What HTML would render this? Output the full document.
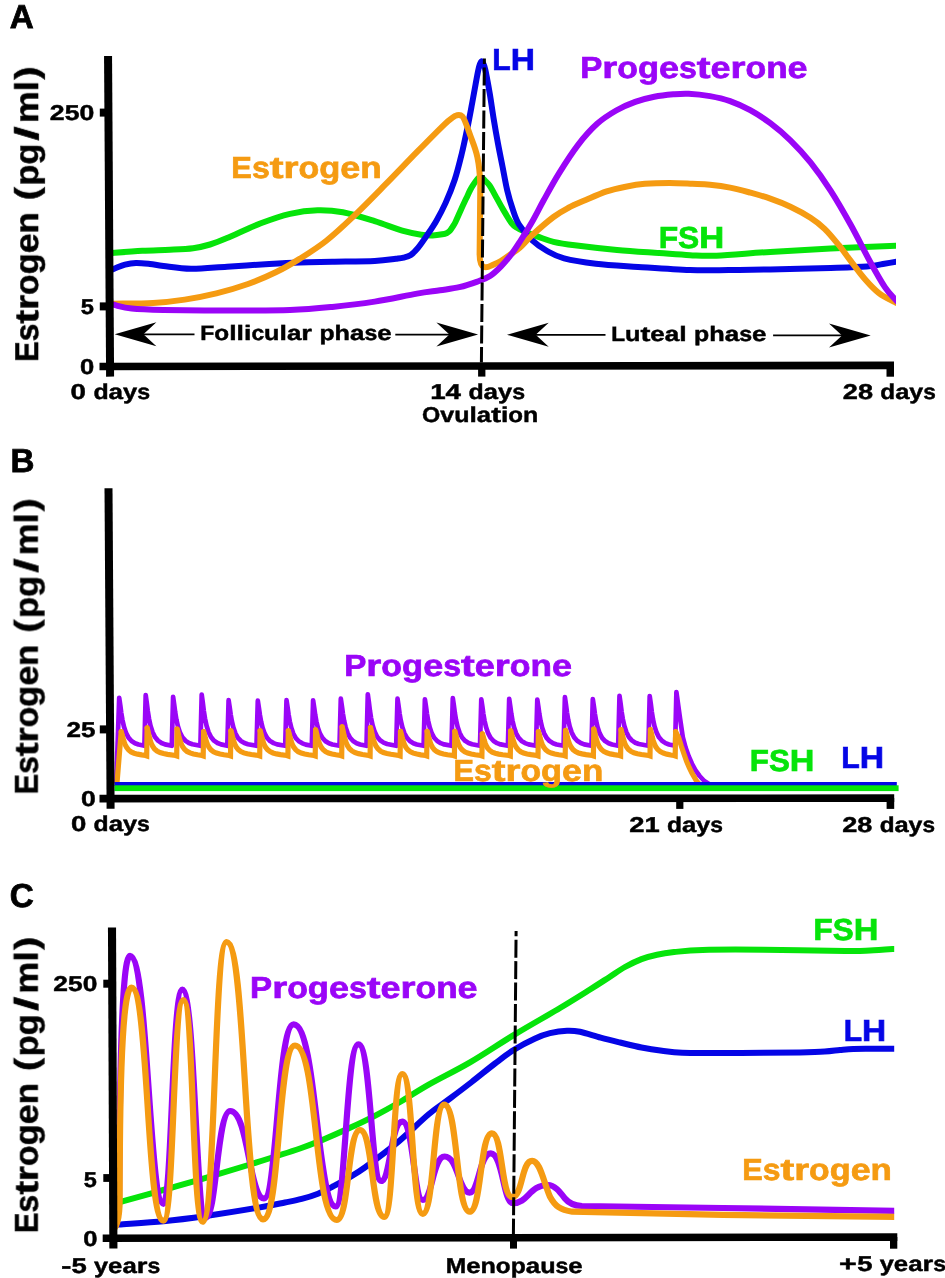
<!DOCTYPE html>
<html><head><meta charset="utf-8"><title>Hormone levels</title>
<style>
html,body{margin:0;padding:0;background:#fff;}
body{width:945px;height:1278px;overflow:hidden;font-family:"Liberation Sans",sans-serif;}
svg{display:block;}
svg text{text-rendering:geometricPrecision;}
</style></head>
<body>
<svg width="945" height="1278" viewBox="0 0 945 1278">
<defs><filter id="nf" x="-5%" y="-50%" width="110%" height="200%" color-interpolation-filters="sRGB"><feOffset dx="0" dy="0"/></filter></defs>
<rect width="945" height="1278" fill="#fff"/>
<g id="panelA">
<clipPath id="clipA"><rect x="112" y="40" width="784" height="330"/></clipPath>
<g clip-path="url(#clipA)">
<path d="M108 253.2 C113.72 252.8 131.97 251.37 142.3 250.8 C152.63 250.23 161.53 250.23 170 249.8 C178.47 249.37 186.43 249.08 193.1 248.2 C199.77 247.32 204.35 246.18 210 244.5 C215.65 242.82 218.53 241.63 227 238.1 C235.47 234.57 250.3 227.35 260.8 223.3 C271.3 219.25 280.55 215.98 290 213.8 C299.45 211.62 308.68 210.45 317.5 210.2 C326.32 209.95 333.37 210.47 342.9 212.3 C352.43 214.13 364.82 218.13 374.7 221.2 C384.58 224.27 394.45 228.45 402.2 230.7 C409.95 232.95 416.12 233.92 421.2 234.7 C426.28 235.48 429.2 235.47 432.7 235.4 C436.2 235.33 439.82 234.72 442.2 234.3 C444.58 233.88 445.72 233.48 447 232.9 C448.28 232.32 448.97 231.82 449.9 230.8 C450.83 229.78 451.65 228.32 452.6 226.8 C453.55 225.28 454.15 224.67 455.6 221.7 C457.05 218.73 459.52 212.9 461.3 209 C463.08 205.1 464.82 201.47 466.3 198.3 C467.78 195.13 469.02 192.28 470.2 190 C471.38 187.72 472.33 186.27 473.4 184.6 C474.47 182.93 475.7 181.13 476.6 180 C477.5 178.87 478.17 178.25 478.8 177.8 C479.43 177.35 479.83 177.27 480.4 177.3 C480.97 177.33 481.43 177.45 482.2 178 C482.97 178.55 483.77 179.35 485 180.6 C486.23 181.85 487.97 183.17 489.6 185.5 C491.23 187.83 492.57 190.62 494.8 194.6 C497.03 198.58 500.1 204.5 503 209.4 C505.9 214.3 509.87 220.97 512.2 224 C514.53 227.03 515.2 226.47 517 227.6 C518.8 228.73 520.52 229.67 523 230.8 C525.48 231.93 529.18 233.33 531.9 234.4 C534.62 235.47 535.7 235.97 539.3 237.2 C542.9 238.43 547.6 240.45 553.5 241.8 C559.4 243.15 564.12 243.93 574.7 245.3 C585.28 246.67 602.9 248.7 617 250 C631.1 251.3 647.13 252.23 659.3 253.1 C671.47 253.97 680.47 254.77 690 255.2 C699.53 255.63 703.12 256.25 716.5 255.7 C729.88 255.15 751.28 253.1 770.3 251.9 C789.32 250.7 808.98 249.53 830.6 248.5 C852.22 247.47 888.43 246.17 900 245.7" fill="none" stroke="#06e40a" stroke-width="6" stroke-linecap="butt" stroke-linejoin="round"/>
<path d="M108 270.5 C108.97 270.22 110.97 269.78 113.8 268.8 C116.63 267.82 121.3 265.58 125 264.6 C128.7 263.62 131.83 263 136 262.9 C140.17 262.8 145.42 263.48 150 264 C154.58 264.52 156.67 265.2 163.5 266 C170.33 266.8 180.42 268.68 191 268.8 C201.58 268.92 213.95 267.52 227 266.7 C240.05 265.88 257.13 264.62 269.3 263.9 C281.47 263.18 289.5 262.75 300 262.4 C310.5 262.05 319.85 262.03 332.3 261.8 C344.75 261.57 364.12 261.5 374.7 261 C385.28 260.5 390.98 259.37 395.8 258.8 C400.62 258.23 401.1 258.25 403.6 257.6 C406.1 256.95 408.4 256.52 410.8 254.9 C413.2 253.28 415.3 251.17 418 247.9 C420.7 244.63 423.95 239.8 427 235.3 C430.05 230.8 433.2 226.3 436.3 220.9 C439.4 215.5 442.52 209.8 445.6 202.9 C448.68 196 452.13 187.58 454.8 179.5 C457.47 171.42 459.48 163.08 461.6 154.4 C463.72 145.72 465.77 135.8 467.5 127.4 C469.23 119 470.65 111.2 472 104 C473.35 96.8 474.43 90.37 475.6 84.2 C476.77 78.03 477.98 70.83 479 67 C480.02 63.17 480.82 61.37 481.7 61.2 C482.58 61.03 483.48 63.53 484.3 66 C485.12 68.47 485.65 71.17 486.6 76 C487.55 80.83 488.83 87.93 490 95 C491.17 102.07 492.27 110.3 493.6 118.4 C494.93 126.5 496.5 135.5 498 143.6 C499.5 151.7 501.07 159.22 502.6 167 C504.13 174.78 505.57 183.42 507.2 190.3 C508.83 197.18 510.43 202.6 512.4 208.3 C514.37 214 515.68 219.15 519 224.5 C522.32 229.85 527.62 235.98 532.3 240.4 C536.98 244.82 541.8 248 547.1 251 C552.4 254 555.98 256.28 564.1 258.4 C572.22 260.52 583.47 262.28 595.8 263.7 C608.13 265.12 622.4 265.83 638.1 266.9 C653.8 267.97 674.9 269.57 690 270.1 C705.1 270.63 715.32 270.22 728.7 270.1 C742.08 269.98 753.32 269.75 770.3 269.4 C787.28 269.05 814.52 268.47 830.6 268 C846.68 267.53 858.08 267.27 866.8 266.6 C875.52 265.93 877.37 264.93 882.9 264 C888.43 263.07 897.15 261.5 900 261" fill="none" stroke="#0505e6" stroke-width="6" stroke-linecap="butt" stroke-linejoin="round"/>
<path d="M108 303.9 C108.97 303.87 106.3 303.85 113.8 303.7 C121.3 303.55 141.18 303.68 153 303 C164.82 302.32 174.13 301.2 184.7 299.6 C195.27 298 205.85 296 216.4 293.4 C226.95 290.8 238.12 287.52 248 284 C257.88 280.48 267.03 276.53 275.7 272.3 C284.37 268.07 291.62 263.82 300 258.6 C308.38 253.38 317.08 248.03 326 241 C334.92 233.97 343.63 225.78 353.5 216.4 C363.37 207.02 374.62 195.45 385.2 184.7 C395.78 173.95 407.12 161.97 417 151.9 C426.88 141.83 438.67 129.95 444.5 124.3 C450.33 118.65 450.75 119.05 452 118 C455 115.5 459.5 113.5 462.5 116.5 C465 119 468 130 472 140.2 C476 150.5 479.5 160 480.3 185 L479.6 254 C479.6 261 480.5 265.8 484 267 C487 268 489.5 266.5 492 265.3 C493.47 264.58 497.6 262.88 500.8 261 C504 259.12 508 256.25 511.2 254 C514.4 251.75 516.48 250.67 520 247.5 C523.52 244.33 526.72 240.08 532.3 235 C537.88 229.92 547.55 221.5 553.5 217 C559.45 212.5 562.63 210.83 568 208 C573.37 205.17 579.25 202.77 585.7 200 C592.15 197.23 600.03 193.62 606.7 191.4 C613.37 189.18 619.35 187.97 625.7 186.7 C632.05 185.43 637.5 184.43 644.8 183.8 C652.1 183.17 661.57 182.9 669.5 182.9 C677.43 182.9 685.65 183.48 692.4 183.8 C699.15 184.12 703.72 184.17 710 184.8 C716.28 185.43 723.4 186.3 730.1 187.6 C736.8 188.9 743.5 190.77 750.2 192.6 C756.9 194.43 763.6 196.25 770.3 198.6 C777 200.95 783.7 203.52 790.4 206.7 C797.1 209.88 804.8 214.02 810.5 217.7 C816.2 221.38 819.9 224.27 824.6 228.8 C829.3 233.33 834.35 239.55 838.7 244.9 C843.05 250.25 846.35 255.22 850.7 260.9 C855.05 266.58 860.1 273.63 864.8 279 C869.5 284.37 873.87 289.23 878.9 293.1 C883.93 296.97 891.48 300.3 895 302.2 C898.52 304.1 899.17 304.12 900 304.5" fill="none" stroke="#f59b12" stroke-width="6" stroke-linecap="butt" stroke-linejoin="round"/>
<path d="M108 303.5 C108.97 303.72 109.85 303.95 113.8 304.8 C117.75 305.65 123.42 307.73 131.7 308.6 C139.98 309.47 147.62 309.68 163.5 310 C179.38 310.32 205.92 310.5 227 310.5 C248.08 310.5 272.45 310.6 290 310 C307.55 309.4 318.18 308.3 332.3 306.9 C346.42 305.5 360.58 303.82 374.7 301.6 C388.82 299.38 406.12 295.48 417 293.6 C427.88 291.72 432.95 291.37 440 290.3 C447.05 289.23 453.07 288.65 459.3 287.2 C465.53 285.75 472.28 283.47 477.4 281.6 C482.52 279.73 486.1 278.5 490 276 C493.9 273.5 497.27 270.18 500.8 266.6 C504.33 263.02 508 258.68 511.2 254.5 C514.4 250.32 516.48 247.02 520 241.5 C523.52 235.98 528.33 228.32 532.3 221.4 C536.27 214.48 539.35 208.02 543.8 200 C548.25 191.98 553.28 182.5 559 173.3 C564.72 164.1 571.75 153.05 578.1 144.8 C584.45 136.55 590.75 129.52 597.1 123.8 C603.45 118.08 609.85 114.15 616.2 110.5 C622.55 106.85 628.85 104.18 635.2 101.9 C641.55 99.62 647.95 98.07 654.3 96.8 C660.65 95.53 667.58 94.82 673.3 94.3 C679.02 93.78 682.48 93.4 688.6 93.7 C694.72 94 703.08 94.87 710 96.1 C716.92 97.33 723.4 98.75 730.1 101.1 C736.8 103.45 743.5 106.52 750.2 110.2 C756.9 113.88 763.6 118.18 770.3 123.2 C777 128.22 783.7 133.77 790.4 140.3 C797.1 146.83 803.8 154.02 810.5 162.4 C817.2 170.78 823.9 180.2 830.6 190.6 C837.3 201 844 212.73 850.7 224.8 C857.4 236.87 865.1 252.62 870.8 263 C876.5 273.38 880.87 281.08 884.9 287.1 C888.93 293.12 892.48 296.28 895 299.1 C897.52 301.92 899.17 303.18 900 304" fill="none" stroke="#9a05f7" stroke-width="6" stroke-linecap="butt" stroke-linejoin="round"/>
</g>
<line x1="484.4" y1="58.6" x2="481.4" y2="362.5" stroke="#000" stroke-width="3" stroke-dasharray="18 3.5" stroke-dashoffset="12.6"/>
<line x1="108.05" y1="56" x2="110.1" y2="376.6" stroke="#000" stroke-width="8"/>
<line x1="99.5" y1="366.5" x2="894" y2="365.4" stroke="#000" stroke-width="7.6"/>
<rect x="99.8" y="108.6" width="6" height="8" fill="#000"/>
<rect x="99.8" y="302.4" width="7" height="8" fill="#000"/>
<rect x="478.1" y="366" width="7.3" height="10.6" fill="#000"/>
<rect x="886.5" y="366" width="7.5" height="10.7" fill="#000"/>
<path d="M114.7 334.3 L156.4 322.3 L143.4 334.3 L156.4 346.3 Z" fill="#000"/><line x1="142.7" y1="334.3" x2="194.5" y2="334.3" stroke="#000" stroke-width="1.8"/>
<path d="M478.1 334.6 L436.4 322.6 L449.4 334.6 L436.4 346.6 Z" fill="#000"/><line x1="395.3" y1="334.6" x2="450.1" y2="334.6" stroke="#000" stroke-width="1.8"/>
<path d="M507 334.8 L548.7 322.8 L535.7 334.8 L548.7 346.8 Z" fill="#000"/><line x1="535" y1="334.8" x2="605.5" y2="334.8" stroke="#000" stroke-width="1.8"/>
<path d="M870.7 335.4 L829 323.4 L842 335.4 L829 347.4 Z" fill="#000"/><line x1="773.1" y1="335.4" x2="842.7" y2="335.4" stroke="#000" stroke-width="1.8"/>
<text filter="url(#nf)" x="9.7" y="28.4" font-size="33.2" font-family="Liberation Sans, sans-serif" font-weight="bold" fill="#000" stroke="#000" stroke-width="0.8">A</text>
<g filter="url(#nf)" transform="translate(38.1 360) rotate(-90) translate(-1.82 0)" font-size="33" font-family="Liberation Sans, sans-serif" font-weight="bold" fill="#000" stroke="#000" stroke-width="0.5" stroke-linejoin="miter"><text transform="translate(0 0) scale(0.930 1)">E</text><text transform="translate(20.48 0) scale(0.969 1)">s</text><text transform="translate(38.26 0) scale(1.244 1)">t</text><text transform="translate(51.94 0) scale(1.160 1)">r</text><text transform="translate(66.84 0) scale(1.022 1)">o</text><text transform="translate(87.44 0) scale(1.040 1)">g</text><text transform="translate(108.4 0) scale(1.085 1)">e</text><text transform="translate(128.31 0) scale(1.059 1)">n</text><text x="149.66"> </text><text transform="translate(161.46 0) scale(1.200 1)">(</text><text transform="translate(176.2 0) scale(1.040 1)">p</text><text transform="translate(197.16 0) scale(1.040 1)">g</text><text transform="translate(221.34 0) scale(1.550 1)">/</text><text transform="translate(238.78 0) scale(1.081 1)">m</text><text transform="translate(270.5 0) scale(1.119 1)">l</text><text transform="translate(282.31 0) scale(1.200 1)">)</text></g>
<g filter="url(#nf)" transform="translate(49.86 119.9)" font-size="21.4" font-family="Liberation Sans, sans-serif" font-weight="bold" fill="#000" stroke="#000" stroke-width="0.45" stroke-linejoin="miter"><text transform="translate(0 0) scale(1.245 1)">2</text><text transform="translate(14.82 0) scale(1.245 1)">5</text><text transform="translate(29.64 0) scale(1.245 1)">0</text></g>
<g filter="url(#nf)" transform="translate(80.72 313.8)" font-size="21.4" font-family="Liberation Sans, sans-serif" font-weight="bold" fill="#000" stroke="#000" stroke-width="0.45" stroke-linejoin="miter"><text transform="translate(0 0) scale(1.108 1)">5</text></g>
<g filter="url(#nf)" transform="translate(80.06 373.7)" font-size="21.4" font-family="Liberation Sans, sans-serif" font-weight="bold" fill="#000" stroke="#000" stroke-width="0.45" stroke-linejoin="miter"><text transform="translate(-0 0) scale(1.195 1)">0</text></g>
<g filter="url(#nf)" transform="translate(70.59 398.5)" font-size="21.4" font-family="Liberation Sans, sans-serif" font-weight="bold" fill="#000" stroke="#000" stroke-width="0.45" stroke-linejoin="miter"><text transform="translate(0 0) scale(1.296 1)">0</text><text x="15.43"> </text><text transform="translate(22.85 0) scale(1.161 1)">d</text><text transform="translate(38.02 0) scale(1.218 1)">a</text><text transform="translate(52.52 0) scale(1.187 1)">y</text><text transform="translate(66.65 0) scale(1.081 1)">s</text></g>
<g filter="url(#nf)" transform="translate(430.15 398.9)" font-size="21.4" font-family="Liberation Sans, sans-serif" font-weight="bold" fill="#000" stroke="#000" stroke-width="0.45" stroke-linejoin="miter"><text transform="translate(-0 0) scale(1.295 1)">1</text><text transform="translate(15.42 0) scale(1.295 1)">4</text><text x="30.83"> </text><text transform="translate(38.25 0) scale(1.160 1)">d</text><text transform="translate(53.4 0) scale(1.217 1)">a</text><text transform="translate(67.89 0) scale(1.186 1)">y</text><text transform="translate(82 0) scale(1.080 1)">s</text></g>
<g filter="url(#nf)" transform="translate(421.98 421.7)" font-size="21.4" font-family="Liberation Sans, sans-serif" font-weight="bold" fill="#000" stroke="#000" stroke-width="0.45" stroke-linejoin="miter"><text transform="translate(0 0) scale(1.096 1)">O</text><text transform="translate(18.24 0) scale(1.172 1)">v</text><text transform="translate(32.19 0) scale(1.169 1)">u</text><text transform="translate(47.47 0) scale(1.235 1)">l</text><text transform="translate(54.81 0) scale(1.204 1)">a</text><text transform="translate(69.15 0) scale(1.373 1)">t</text><text transform="translate(78.94 0) scale(1.235 1)">i</text><text transform="translate(86.28 0) scale(1.128 1)">o</text><text transform="translate(101.02 0) scale(1.169 1)">n</text></g>
<g filter="url(#nf)" transform="translate(842.84 399.4)" font-size="21.4" font-family="Liberation Sans, sans-serif" font-weight="bold" fill="#000" stroke="#000" stroke-width="0.45" stroke-linejoin="miter"><text transform="translate(0 0) scale(1.269 1)">2</text><text transform="translate(15.11 0) scale(1.269 1)">8</text><text x="30.21"> </text><text transform="translate(37.48 0) scale(1.136 1)">d</text><text transform="translate(52.33 0) scale(1.192 1)">a</text><text transform="translate(66.52 0) scale(1.162 1)">y</text><text transform="translate(80.35 0) scale(1.058 1)">s</text></g>
<g filter="url(#nf)" transform="translate(200.31 340)" font-size="20.9" font-family="Liberation Sans, sans-serif" font-weight="bold" fill="#000" stroke="#000" stroke-width="0.45" stroke-linejoin="miter"><text transform="translate(0 0) scale(1.101 1)">F</text><text transform="translate(14.05 0) scale(1.164 1)">o</text><text transform="translate(28.91 0) scale(1.274 1)">l</text><text transform="translate(36.3 0) scale(1.274 1)">l</text><text transform="translate(43.69 0) scale(1.274 1)">i</text><text transform="translate(51.09 0) scale(1.094 1)">c</text><text transform="translate(63.8 0) scale(1.206 1)">u</text><text transform="translate(79.2 0) scale(1.274 1)">l</text><text transform="translate(86.59 0) scale(1.242 1)">a</text><text transform="translate(101.03 0) scale(1.321 1)">r</text><text x="111.78"> </text><text transform="translate(119.17 0) scale(1.184 1)">p</text><text transform="translate(134.28 0) scale(1.206 1)">h</text><text transform="translate(149.68 0) scale(1.242 1)">a</text><text transform="translate(164.12 0) scale(1.103 1)">s</text><text transform="translate(176.94 0) scale(1.235 1)">e</text></g>
<g filter="url(#nf)" transform="translate(611.13 341.1)" font-size="20.9" font-family="Liberation Sans, sans-serif" font-weight="bold" fill="#000" stroke="#000" stroke-width="0.45" stroke-linejoin="miter"><text transform="translate(0 0) scale(1.083 1)">L</text><text transform="translate(13.83 0) scale(1.211 1)">u</text><text transform="translate(29.3 0) scale(1.420 1)">t</text><text transform="translate(39.19 0) scale(1.240 1)">e</text><text transform="translate(53.6 0) scale(1.248 1)">a</text><text transform="translate(68.1 0) scale(1.279 1)">l</text><text x="75.53"> </text><text transform="translate(82.95 0) scale(1.189 1)">p</text><text transform="translate(98.13 0) scale(1.211 1)">h</text><text transform="translate(113.59 0) scale(1.248 1)">a</text><text transform="translate(128.09 0) scale(1.107 1)">s</text><text transform="translate(140.96 0) scale(1.240 1)">e</text></g>
<g filter="url(#nf)" transform="translate(231.29 177.6)" font-size="30.4" font-family="Liberation Sans, sans-serif" font-weight="bold" fill="#f59b12" stroke="#f59b12" stroke-width="0.7" stroke-linejoin="miter"><text transform="translate(0 0) scale(1.016 1)">E</text><text transform="translate(20.59 0) scale(1.057 1)">s</text><text transform="translate(38.47 0) scale(1.358 1)">t</text><text transform="translate(52.22 0) scale(1.267 1)">r</text><text transform="translate(67.21 0) scale(1.116 1)">o</text><text transform="translate(87.92 0) scale(1.135 1)">g</text><text transform="translate(109 0) scale(1.184 1)">e</text><text transform="translate(129.02 0) scale(1.156 1)">n</text></g>
<g filter="url(#nf)" transform="translate(492.33 70.3)" font-size="30.4" font-family="Liberation Sans, sans-serif" font-weight="bold" fill="#0505e6" stroke="#0505e6" stroke-width="0.7" stroke-linejoin="miter"><text transform="translate(0 0) scale(0.993 1)">L</text><text transform="translate(18.43 0) scale(1.103 1)">H</text></g>
<g filter="url(#nf)" transform="translate(580.17 78)" font-size="30.4" font-family="Liberation Sans, sans-serif" font-weight="bold" fill="#9a05f7" stroke="#9a05f7" stroke-width="0.7" stroke-linejoin="miter"><text transform="translate(0 0) scale(1.089 1)">P</text><text transform="translate(22.07 0) scale(1.265 1)">r</text><text transform="translate(37.04 0) scale(1.114 1)">o</text><text transform="translate(57.73 0) scale(1.134 1)">g</text><text transform="translate(78.78 0) scale(1.183 1)">e</text><text transform="translate(98.77 0) scale(1.056 1)">s</text><text transform="translate(116.63 0) scale(1.356 1)">t</text><text transform="translate(130.36 0) scale(1.183 1)">e</text><text transform="translate(150.36 0) scale(1.265 1)">r</text><text transform="translate(165.32 0) scale(1.114 1)">o</text><text transform="translate(186.01 0) scale(1.155 1)">n</text><text transform="translate(207.45 0) scale(1.183 1)">e</text></g>
<g filter="url(#nf)" transform="translate(658.64 247.7)" font-size="30.4" font-family="Liberation Sans, sans-serif" font-weight="bold" fill="#06e40a" stroke="#06e40a" stroke-width="0.7" stroke-linejoin="miter"><text transform="translate(0 0) scale(1.045 1)">F</text><text transform="translate(19.41 0) scale(1.045 1)">S</text><text transform="translate(40.6 0) scale(1.138 1)">H</text></g>
</g>
<g id="panelB">
<path d="M116.3 783 L119.2 697.9 L120.3 705.43 L121.3 713.09 L122.5 720.24 L124 726.86 L126 732.91 L128.5 737.66 L131.5 741.02 L135 743.25 L138.5 744.56 L144.4 745.8 L145.7 695.1 L146.8 703.05 L147.8 711.13 L149 718.68 L150.5 725.67 L152.5 732.06 L155 737.08 L158 740.62 L161.5 742.98 L165 744.36 L171.8 745.8 L173.1 696.8 L174.2 704.46 L175.2 712.24 L176.4 719.52 L177.9 726.25 L179.9 732.41 L182.4 737.24 L185.4 740.66 L188.9 742.93 L192.4 744.26 L200.4 745.8 L201.7 694.6 L202.8 702.64 L203.8 710.81 L205 718.45 L206.5 725.52 L208.5 731.98 L211 737.05 L214 740.64 L217.5 743.02 L221 744.42 L227.3 745.8 L228.6 700.2 L229.7 707.32 L230.7 714.55 L231.9 721.31 L233.4 727.57 L235.4 733.29 L237.9 737.78 L240.9 740.96 L244.4 743.06 L247.9 744.3 L256.5 745.8 L257.8 700.7 L258.9 707.75 L259.9 714.91 L261.1 721.61 L262.6 727.8 L264.6 733.46 L267.1 737.91 L270.1 741.06 L273.6 743.14 L277.1 744.37 L285.2 745.8 L286.5 700.2 L287.6 707.37 L288.6 714.65 L289.8 721.46 L291.3 727.76 L293.3 733.52 L295.8 738.04 L298.8 741.24 L302.3 743.36 L305.8 744.61 L311.8 745.8 L313.1 700.4 L314.2 707.51 L315.2 714.74 L316.4 721.5 L317.9 727.75 L319.9 733.47 L322.4 737.96 L325.4 741.13 L328.9 743.24 L332.4 744.48 L339.5 745.8 L340.8 698.7 L341.9 706.1 L342.9 713.61 L344.1 720.63 L345.6 727.13 L347.6 733.07 L350.1 737.74 L353.1 741.04 L356.6 743.23 L360.1 744.52 L366.5 745.8 L367.8 694.3 L368.9 702.33 L369.9 710.49 L371.1 718.12 L372.6 725.17 L374.6 731.63 L377.1 736.69 L380.1 740.28 L383.6 742.65 L387.1 744.05 L396.2 745.8 L397.5 698.7 L398.6 706.09 L399.6 713.59 L400.8 720.61 L402.3 727.1 L404.3 733.03 L406.8 737.7 L409.8 740.99 L413.3 743.18 L416.8 744.46 L423.6 745.8 L424.9 699.4 L426 706.67 L427 714.05 L428.2 720.95 L429.7 727.34 L431.7 733.18 L434.2 737.76 L437.2 741.01 L440.7 743.16 L444.2 744.42 L451.5 745.8 L452.8 698.2 L453.9 705.64 L454.9 713.21 L456.1 720.28 L457.6 726.82 L459.6 732.8 L462.1 737.5 L465.1 740.82 L468.6 743.02 L472.1 744.31 L480 745.8 L481.3 699.4 L482.4 706.67 L483.4 714.05 L484.6 720.95 L486.1 727.34 L488.1 733.18 L490.6 737.76 L493.6 741.01 L497.1 743.16 L500.6 744.42 L507.9 745.8 L509.2 698.9 L510.3 706.24 L511.3 713.7 L512.5 720.67 L514 727.13 L516 733.02 L518.5 737.66 L521.5 740.93 L525 743.11 L528.5 744.38 L536 745.8 L537.3 699.6 L538.4 706.84 L539.4 714.2 L540.6 721.08 L542.1 727.44 L544.1 733.26 L546.6 737.83 L549.6 741.06 L553.1 743.2 L556.6 744.46 L563.6 745.8 L564.9 697.2 L566 704.81 L567 712.55 L568.2 719.77 L569.7 726.46 L571.7 732.58 L574.2 737.38 L577.2 740.78 L580.7 743.03 L584.2 744.36 L591.5 745.8 L592.8 699 L593.9 706.35 L594.9 713.83 L596.1 720.81 L597.6 727.28 L599.6 733.19 L602.1 737.83 L605.1 741.11 L608.6 743.29 L612.1 744.57 L618.2 745.8 L619.5 695.9 L620.6 703.67 L621.6 711.57 L622.8 718.95 L624.3 725.78 L626.3 732.03 L628.8 736.93 L631.8 740.4 L635.3 742.7 L638.8 744.05 L648.4 745.8 L649.7 696.1 L650.8 703.91 L651.8 711.85 L653 719.26 L654.5 726.13 L656.5 732.4 L659 737.33 L662 740.82 L665.5 743.13 L669 744.49 L675.1 745.8 L676.4 692.1 L680 718.1 L682.8 737.1 L685.6 747.5 L688.7 756.2 L692 763.8 L695.4 770.2 L699.6 776 L704.3 781 L709 784" fill="none" stroke="#9a05f7" stroke-width="4.7" stroke-linecap="butt" stroke-linejoin="round"/>
<path d="M117 783 L121.2 731.7" fill="none" stroke="#f59b12" stroke-width="5.2" stroke-linecap="round" stroke-linejoin="miter" stroke-miterlimit="6"/>
<path d="M121.2 731.7 L122.2 734.79 L123 738.23 L124 741.67 L125.2 744.79 L126.6 747.44 L128.6 749.98 L131.1 751.89 L134.1 753.22 L137.6 754.16 L141.6 754.91 L145.5 755.51 L146.7 755.9 L147.1 727.9" fill="none" stroke="#f59b12" stroke-width="5.2" stroke-linecap="round" stroke-linejoin="miter" stroke-miterlimit="6"/>
<path d="M147.1 727.9 L148.1 731.46 L148.9 735.43 L149.9 739.39 L151.1 742.98 L152.5 746.02 L154.5 748.91 L157 751.07 L160 752.54 L163.5 753.55 L167.5 754.32 L175.5 755.52 L176.7 755.9 L177.1 729.1" fill="none" stroke="#f59b12" stroke-width="5.2" stroke-linecap="round" stroke-linejoin="miter" stroke-miterlimit="6"/>
<path d="M177.1 729.1 L178.1 732.52 L178.9 736.34 L179.9 740.14 L181.1 743.6 L182.5 746.54 L184.5 749.34 L187 751.45 L190 752.92 L193.5 753.95 L197.5 754.76 L202 755.51 L203.2 755.9 L203.6 731.7" fill="none" stroke="#f59b12" stroke-width="5.2" stroke-linecap="round" stroke-linejoin="miter" stroke-miterlimit="6"/>
<path d="M203.6 731.7 L204.6 734.78 L205.4 738.22 L206.4 741.64 L207.6 744.76 L209 747.4 L211 749.92 L213.5 751.81 L216.5 753.12 L220 754.04 L224 754.75 L229.3 755.52 L230.5 755.9 L230.9 730.8" fill="none" stroke="#f59b12" stroke-width="5.2" stroke-linecap="round" stroke-linejoin="miter" stroke-miterlimit="6"/>
<path d="M230.9 730.8 L231.9 733.99 L232.7 737.55 L233.7 741.09 L234.9 744.32 L236.3 747.04 L238.3 749.63 L240.8 751.58 L243.8 752.91 L247.3 753.82 L251.3 754.53 L258.5 755.52 L259.7 755.9 L260.1 730.8" fill="none" stroke="#f59b12" stroke-width="5.2" stroke-linecap="round" stroke-linejoin="miter" stroke-miterlimit="6"/>
<path d="M260.1 730.8 L261.1 734 L261.9 737.56 L262.9 741.11 L264.1 744.33 L265.5 747.07 L267.5 749.67 L270 751.62 L273 752.97 L276.5 753.9 L280.5 754.63 L286.7 755.52 L287.9 755.9 L288.3 730.8" fill="none" stroke="#f59b12" stroke-width="5.2" stroke-linecap="round" stroke-linejoin="miter" stroke-miterlimit="6"/>
<path d="M288.3 730.8 L289.3 734 L290.1 737.57 L291.1 741.12 L292.3 744.35 L293.7 747.09 L295.7 749.7 L298.2 751.67 L301.2 753.03 L304.7 753.98 L308.7 754.72 L314 755.52 L315.2 755.9 L315.6 729.8" fill="none" stroke="#f59b12" stroke-width="5.2" stroke-linecap="round" stroke-linejoin="miter" stroke-miterlimit="6"/>
<path d="M315.6 729.8 L316.6 733.13 L317.4 736.85 L318.4 740.55 L319.6 743.92 L321 746.78 L323 749.5 L325.5 751.56 L328.5 752.99 L332 753.99 L336 754.78 L340.5 755.51 L341.7 755.9 L342.1 726.8" fill="none" stroke="#f59b12" stroke-width="5.2" stroke-linecap="round" stroke-linejoin="miter" stroke-miterlimit="6"/>
<path d="M342.1 726.8 L343.1 730.51 L343.9 734.65 L344.9 738.76 L346.1 742.51 L347.5 745.68 L349.5 748.7 L352 750.97 L355 752.53 L358.5 753.61 L362.5 754.45 L368.9 755.51 L370.1 755.9 L370.5 727.6" fill="none" stroke="#f59b12" stroke-width="5.2" stroke-linecap="round" stroke-linejoin="miter" stroke-miterlimit="6"/>
<path d="M370.5 727.6 L371.5 731.2 L372.3 735.22 L373.3 739.21 L374.5 742.84 L375.9 745.91 L377.9 748.83 L380.4 751.02 L383.4 752.51 L386.9 753.53 L390.9 754.31 L398.9 755.52 L400.1 755.9 L400.5 731.4" fill="none" stroke="#f59b12" stroke-width="5.2" stroke-linecap="round" stroke-linejoin="miter" stroke-miterlimit="6"/>
<path d="M400.5 731.4 L401.5 734.52 L402.3 738.01 L403.3 741.48 L404.5 744.64 L405.9 747.32 L407.9 749.88 L410.4 751.8 L413.4 753.14 L416.9 754.08 L420.9 754.82 L425.5 755.51 L426.7 755.9 L427.1 731.4" fill="none" stroke="#f59b12" stroke-width="5.2" stroke-linecap="round" stroke-linejoin="miter" stroke-miterlimit="6"/>
<path d="M427.1 731.4 L428.1 734.52 L428.9 738 L429.9 741.46 L431.1 744.62 L432.5 747.29 L434.5 749.83 L437 751.74 L440 753.06 L443.5 753.98 L447.5 754.7 L453.2 755.52 L454.4 755.9 L454.8 731.4" fill="none" stroke="#f59b12" stroke-width="5.2" stroke-linecap="round" stroke-linejoin="miter" stroke-miterlimit="6"/>
<path d="M454.8 731.4 L455.8 734.52 L456.6 738 L457.6 741.47 L458.8 744.62 L460.2 747.29 L462.2 749.84 L464.7 751.76 L467.7 753.08 L471.2 754 L475.2 754.72 L480.7 755.52 L481.9 755.9 L482.3 733.9" fill="none" stroke="#f59b12" stroke-width="5.2" stroke-linecap="round" stroke-linejoin="miter" stroke-miterlimit="6"/>
<path d="M482.3 733.9 L483.3 736.7 L484.1 739.81 L485.1 742.91 L486.3 745.74 L487.7 748.13 L489.7 750.4 L492.2 752.11 L495.2 753.29 L498.7 754.1 L502.7 754.73 L509.1 755.53 L510.3 755.9 L510.7 730.9" fill="none" stroke="#f59b12" stroke-width="5.2" stroke-linecap="round" stroke-linejoin="miter" stroke-miterlimit="6"/>
<path d="M510.7 730.9 L511.7 734.08 L512.5 737.64 L513.5 741.17 L514.7 744.39 L516.1 747.11 L518.1 749.71 L520.6 751.67 L523.6 753.01 L527.1 753.95 L531.1 754.68 L536.8 755.52 L538 755.9 L538.4 731.7" fill="none" stroke="#f59b12" stroke-width="5.2" stroke-linecap="round" stroke-linejoin="miter" stroke-miterlimit="6"/>
<path d="M538.4 731.7 L539.4 734.78 L540.2 738.22 L541.2 741.65 L542.4 744.76 L543.8 747.4 L545.8 749.92 L548.3 751.82 L551.3 753.13 L554.8 754.05 L558.8 754.76 L564 755.52 L565.2 755.9 L565.6 730.4" fill="none" stroke="#f59b12" stroke-width="5.2" stroke-linecap="round" stroke-linejoin="miter" stroke-miterlimit="6"/>
<path d="M565.6 730.4 L566.6 733.65 L567.4 737.27 L568.4 740.87 L569.6 744.15 L571 746.93 L573 749.57 L575.5 751.56 L578.5 752.93 L582 753.87 L586 754.61 L592.2 755.52 L593.4 755.9 L593.8 729.1" fill="none" stroke="#f59b12" stroke-width="5.2" stroke-linecap="round" stroke-linejoin="miter" stroke-miterlimit="6"/>
<path d="M593.8 729.1 L594.8 732.52 L595.6 736.33 L596.6 740.13 L597.8 743.58 L599.2 746.51 L601.2 749.3 L603.7 751.41 L606.7 752.86 L610.2 753.88 L614.2 754.67 L619.4 755.51 L620.6 755.9 L621 729.7" fill="none" stroke="#f59b12" stroke-width="5.2" stroke-linecap="round" stroke-linejoin="miter" stroke-miterlimit="6"/>
<path d="M621 729.7 L622 733.03 L622.8 736.75 L623.8 740.45 L625 743.81 L626.4 746.66 L628.4 749.36 L630.9 751.39 L633.9 752.78 L637.4 753.73 L641.4 754.46 L648.8 755.52 L650 755.9 L650.4 729.7" fill="none" stroke="#f59b12" stroke-width="5.2" stroke-linecap="round" stroke-linejoin="miter" stroke-miterlimit="6"/>
<path d="M650.4 729.7 L651.4 733.05 L652.2 736.79 L653.2 740.51 L654.4 743.91 L655.8 746.79 L657.8 749.54 L660.3 751.63 L663.3 753.09 L666.8 754.12 L670.8 754.95 L674 755.5 L675.2 755.9 L675.6 731.7" fill="none" stroke="#f59b12" stroke-width="5.2" stroke-linecap="round" stroke-linejoin="miter" stroke-miterlimit="6"/>
<path d="M675.6 731.7 L678.8 738 L681.3 746 L684 754 L686.6 761.3 L689.2 767.5 L691.8 772.7 L694.2 777 L696.5 781 L699 784" fill="none" stroke="#f59b12" stroke-width="5.2" stroke-linecap="round" stroke-linejoin="miter" stroke-miterlimit="6"/>
<rect x="114.4" y="782" width="782.4" height="4" fill="#0505e6"/>
<rect x="114.4" y="785.3" width="784.2" height="5.8" fill="#06e40a"/>
<line x1="108.5" y1="488.3" x2="110.6" y2="808.8" stroke="#000" stroke-width="8"/>
<line x1="99.5" y1="798.6" x2="894.2" y2="798.1" stroke="#000" stroke-width="7.6"/>
<rect x="99.8" y="725.4" width="7" height="8" fill="#000"/>
<rect x="676.2" y="798" width="7.2" height="10.9" fill="#000"/>
<rect x="886.6" y="798" width="7.6" height="10.9" fill="#000"/>
<text filter="url(#nf)" x="10.4" y="472.2" font-size="33.2" font-family="Liberation Sans, sans-serif" font-weight="bold" fill="#000" stroke="#000" stroke-width="0.8">B</text>
<g filter="url(#nf)" transform="translate(37.7 792.6) rotate(-90) translate(-1.83 0)" font-size="33" font-family="Liberation Sans, sans-serif" font-weight="bold" fill="#000" stroke="#000" stroke-width="0.5" stroke-linejoin="miter"><text transform="translate(0 0) scale(0.932 1)">E</text><text transform="translate(20.52 0) scale(0.971 1)">s</text><text transform="translate(38.34 0) scale(1.247 1)">t</text><text transform="translate(52.04 0) scale(1.163 1)">r</text><text transform="translate(66.98 0) scale(1.024 1)">o</text><text transform="translate(87.62 0) scale(1.042 1)">g</text><text transform="translate(108.63 0) scale(1.087 1)">e</text><text transform="translate(128.58 0) scale(1.061 1)">n</text><text x="149.97"> </text><text transform="translate(161.81 0) scale(1.200 1)">(</text><text transform="translate(176.57 0) scale(1.042 1)">p</text><text transform="translate(197.57 0) scale(1.042 1)">g</text><text transform="translate(221.82 0) scale(1.550 1)">/</text><text transform="translate(239.28 0) scale(1.083 1)">m</text><text transform="translate(271.07 0) scale(1.121 1)">l</text><text transform="translate(282.91 0) scale(1.200 1)">)</text></g>
<g filter="url(#nf)" transform="translate(66.47 736.9)" font-size="21.4" font-family="Liberation Sans, sans-serif" font-weight="bold" fill="#000" stroke="#000" stroke-width="0.45" stroke-linejoin="miter"><text transform="translate(0 0) scale(1.218 1)">2</text><text transform="translate(14.49 0) scale(1.218 1)">5</text></g>
<g filter="url(#nf)" transform="translate(81.03 805.8)" font-size="21.4" font-family="Liberation Sans, sans-serif" font-weight="bold" fill="#000" stroke="#000" stroke-width="0.45" stroke-linejoin="miter"><text transform="translate(0 0) scale(1.242 1)">0</text></g>
<g filter="url(#nf)" transform="translate(70.9 831.2)" font-size="21.4" font-family="Liberation Sans, sans-serif" font-weight="bold" fill="#000" stroke="#000" stroke-width="0.45" stroke-linejoin="miter"><text transform="translate(0 0) scale(1.288 1)">0</text><text x="15.33"> </text><text transform="translate(22.71 0) scale(1.153 1)">d</text><text transform="translate(37.78 0) scale(1.210 1)">a</text><text transform="translate(52.18 0) scale(1.179 1)">y</text><text transform="translate(66.22 0) scale(1.074 1)">s</text></g>
<g filter="url(#nf)" transform="translate(629.34 831.5)" font-size="21.4" font-family="Liberation Sans, sans-serif" font-weight="bold" fill="#000" stroke="#000" stroke-width="0.45" stroke-linejoin="miter"><text transform="translate(0 0) scale(1.279 1)">2</text><text transform="translate(15.22 0) scale(1.279 1)">1</text><text x="30.44"> </text><text transform="translate(37.76 0) scale(1.145 1)">d</text><text transform="translate(52.73 0) scale(1.201 1)">a</text><text transform="translate(67.03 0) scale(1.171 1)">y</text><text transform="translate(80.97 0) scale(1.067 1)">s</text></g>
<g filter="url(#nf)" transform="translate(842.24 831.7)" font-size="21.4" font-family="Liberation Sans, sans-serif" font-weight="bold" fill="#000" stroke="#000" stroke-width="0.45" stroke-linejoin="miter"><text transform="translate(0 0) scale(1.266 1)">2</text><text transform="translate(15.07 0) scale(1.266 1)">8</text><text x="30.15"> </text><text transform="translate(37.4 0) scale(1.134 1)">d</text><text transform="translate(52.21 0) scale(1.190 1)">a</text><text transform="translate(66.37 0) scale(1.159 1)">y</text><text transform="translate(80.18 0) scale(1.056 1)">s</text></g>
<g filter="url(#nf)" transform="translate(344.26 676.4)" font-size="30.4" font-family="Liberation Sans, sans-serif" font-weight="bold" fill="#9a05f7" stroke="#9a05f7" stroke-width="0.7" stroke-linejoin="miter"><text transform="translate(0 0) scale(1.090 1)">P</text><text transform="translate(22.1 0) scale(1.267 1)">r</text><text transform="translate(37.09 0) scale(1.116 1)">o</text><text transform="translate(57.8 0) scale(1.135 1)">g</text><text transform="translate(78.88 0) scale(1.184 1)">e</text><text transform="translate(98.9 0) scale(1.058 1)">s</text><text transform="translate(116.79 0) scale(1.358 1)">t</text><text transform="translate(130.54 0) scale(1.184 1)">e</text><text transform="translate(150.56 0) scale(1.267 1)">r</text><text transform="translate(165.54 0) scale(1.116 1)">o</text><text transform="translate(186.26 0) scale(1.156 1)">n</text><text transform="translate(207.73 0) scale(1.184 1)">e</text></g>
<g filter="url(#nf)" transform="translate(453.5 781.2)" font-size="30.4" font-family="Liberation Sans, sans-serif" font-weight="bold" fill="#f59b12" stroke="#f59b12" stroke-width="0.7" stroke-linejoin="miter"><text transform="translate(0 0) scale(1.011 1)">E</text><text transform="translate(20.5 0) scale(1.052 1)">s</text><text transform="translate(38.29 0) scale(1.352 1)">t</text><text transform="translate(51.97 0) scale(1.260 1)">r</text><text transform="translate(66.89 0) scale(1.110 1)">o</text><text transform="translate(87.5 0) scale(1.130 1)">g</text><text transform="translate(108.48 0) scale(1.178 1)">e</text><text transform="translate(128.4 0) scale(1.151 1)">n</text></g>
<g filter="url(#nf)" transform="translate(749.77 771.1)" font-size="30.4" font-family="Liberation Sans, sans-serif" font-weight="bold" fill="#06e40a" stroke="#06e40a" stroke-width="0.7" stroke-linejoin="miter"><text transform="translate(0 0) scale(1.030 1)">F</text><text transform="translate(19.12 0) scale(1.030 1)">S</text><text transform="translate(40.01 0) scale(1.122 1)">H</text></g>
<g filter="url(#nf)" transform="translate(841.22 767.7)" font-size="30.4" font-family="Liberation Sans, sans-serif" font-weight="bold" fill="#0505e6" stroke="#0505e6" stroke-width="0.7" stroke-linejoin="miter"><text transform="translate(0 0) scale(0.998 1)">L</text><text transform="translate(18.52 0) scale(1.109 1)">H</text></g>
</g>
<g id="panelC">
<clipPath id="clipC"><rect x="110" y="900" width="784.2" height="340"/></clipPath>
<g clip-path="url(#clipC)">
<path d="M112 1204.5 C113.88 1203.95 114.47 1203.7 123.3 1201.2 C132.13 1198.7 151.25 1193.38 165 1189.5 C178.75 1185.62 191.63 1182.07 205.8 1177.9 C219.97 1173.73 234.3 1169.4 250 1164.5 C265.7 1159.6 287.85 1152.63 300 1148.5 C312.15 1144.37 314.57 1143.15 322.9 1139.7 C331.23 1136.25 341.18 1131.87 350 1127.8 C358.82 1123.73 367.47 1119.6 375.8 1115.3 C384.13 1111 391.18 1107.1 400 1102 C408.82 1096.9 417.03 1091.3 428.7 1084.7 C440.37 1078.1 455.78 1070.7 470 1062.4 C484.22 1054.1 499 1043.97 514 1034.9 C529 1025.83 547.33 1015.57 560 1008 C572.67 1000.43 581.85 994.6 590 989.5 C598.15 984.4 603.07 981.15 608.9 977.4 C614.73 973.65 619.57 970.05 625 967 C630.43 963.95 636.17 961.15 641.5 959.1 C646.83 957.05 651.57 955.87 657 954.7 C662.43 953.53 666.5 952.9 674.1 952.1 C681.7 951.3 687.67 950.3 702.6 949.9 C717.53 949.5 739.93 949.53 763.7 949.7 C787.47 949.87 827.48 950.77 845.2 950.9 C862.92 951.03 861.2 950.87 870 950.5 C878.8 950.13 893.33 949 898 948.7" fill="none" stroke="#06e40a" stroke-width="6" stroke-linecap="butt" stroke-linejoin="round"/>
<path d="M112 1225.3 C113.17 1225.18 110.42 1225.27 119 1224.6 C127.58 1223.93 149.03 1222.73 163.5 1221.3 C177.97 1219.87 189.93 1218.28 205.8 1216 C221.67 1213.72 245.5 1209.85 258.7 1207.6 C271.9 1205.35 277.83 1203.95 285 1202.5 C292.17 1201.05 296.2 1200.37 301.7 1198.9 C307.2 1197.43 312.7 1195.82 318 1193.7 C323.3 1191.58 328.33 1188.88 333.5 1186.2 C338.67 1183.52 343.72 1180.77 349 1177.6 C354.28 1174.43 357.2 1172.98 365.2 1167.2 C373.2 1161.42 386.42 1151.72 397 1142.9 C407.58 1134.08 419.87 1121.7 428.7 1114.3 C437.53 1106.9 442.83 1103.88 450 1098.5 C457.17 1093.12 464.2 1087.83 471.7 1082 C479.2 1076.17 487.95 1068.88 495 1063.5 C502.05 1058.12 507.3 1053.87 514 1049.7 C520.7 1045.53 529.2 1041.25 535.2 1038.5 C541.2 1035.75 544.7 1034.5 550 1033.2 C555.3 1031.9 562 1030.93 567 1030.7 C572 1030.47 574.38 1030.63 580 1031.8 C585.62 1032.97 594.03 1035.92 600.7 1037.7 C607.37 1039.48 613.2 1040.87 620 1042.5 C626.8 1044.13 634.5 1046.12 641.5 1047.5 C648.5 1048.88 655.22 1049.92 662 1050.8 C668.78 1051.68 672.53 1052.43 682.2 1052.8 C691.87 1053.17 706.42 1053 720 1053 C733.58 1053 750.37 1052.9 763.7 1052.8 C777.03 1052.7 789.82 1052.6 800 1052.4 C810.18 1052.2 818.13 1052 824.8 1051.6 C831.47 1051.2 835.25 1050.45 840 1050 C844.75 1049.55 848.3 1049.12 853.3 1048.9 C858.3 1048.68 862.55 1048.73 870 1048.7 C877.45 1048.67 893.33 1048.7 898 1048.7" fill="none" stroke="#0505e6" stroke-width="6" stroke-linecap="butt" stroke-linejoin="round"/>
<path d="M112 1229 C116 1228 119 1220 119 1198 C119.5 1120 120.5 955.8 130 955.8 C148.09 955.8 148.76 1203.8 163.5 1203.8 C171.77 1203.8 172.15 989.7 182.3 989.7 C194.99 989.7 195.46 1217.5 205.8 1217.5 C216.54 1217.5 217.02 1111 230.2 1111 C248.45 1111 249.13 1198.5 264 1198.5 C277.07 1198.5 277.66 1024.3 293.7 1024.3 C316.33 1024.3 317.16 1206.5 335.6 1206.5 C345.68 1206.5 346.13 1044.4 358.5 1044.4 C370.7 1044.4 371.16 1181 381.1 1181 C390.43 1181 390.85 1121.6 402.3 1121.6 C413.37 1121.6 413.78 1200 422.8 1200 C432.39 1200 432.83 1156.5 444.6 1156.5 C458.1 1156.5 458.6 1192.7 469.6 1192.7 C478.93 1192.7 479.35 1153.4 490.8 1153.4 C502.79 1153.4 503.23 1203.2 513 1203.2 C528.36 1203.2 529.05 1185 547.9 1185 C555 1185 560 1192 565 1198.5 C569 1203.5 574 1205.6 582 1206 L723 1208 L898 1210.9" fill="none" stroke="#9a05f7" stroke-width="6.2" stroke-linecap="butt" stroke-linejoin="round"/>
<path d="M112 1230 C116.5 1229 119.7 1220 119.7 1198 C119.7 1130 120.5 987.6 131.5 987.6 C148.78 987.6 146.22 1220.7 163.5 1220.7 C174.25 1220.7 172.65 1000.2 183.4 1000.2 C193.77 1000.2 192.23 1221.7 202.6 1221.7 C215.56 1221.7 213.64 942 226.6 942 C246.26 942 243.34 1219.4 263 1219.4 C280.28 1219.4 277.72 1045.5 295 1045.5 C317.52 1045.5 314.18 1220 336.7 1220 C349.28 1220 347.42 1130 360 1130 C373.12 1130 371.18 1217 384.3 1217 C394.02 1217 392.58 1074 402.3 1074 C413.37 1074 411.73 1213.8 422.8 1213.8 C434.36 1213.8 432.64 1104.7 444.2 1104.7 C457.92 1104.7 455.88 1211.7 469.6 1211.7 C481.64 1211.7 479.86 1133.3 491.9 1133.3 C502.75 1133.3 501.15 1197 512 1197 C522.85 1197 521.25 1160.8 532.1 1160.8 C540 1160.8 543 1180 550 1196.8 C555 1206 560 1210 572.2 1211.7 L723 1214.9 L898 1217" fill="none" stroke="#f59b12" stroke-width="6.2" stroke-linecap="butt" stroke-linejoin="round"/>
</g>
<line x1="516.1" y1="931" x2="513.4" y2="1234.5" stroke="#000" stroke-width="3" stroke-dasharray="18 3.46" stroke-dashoffset="12.8"/>
<line x1="112" y1="927.6" x2="113.4" y2="1248.6" stroke="#000" stroke-width="8.1"/>
<line x1="102.7" y1="1238.3" x2="897.3" y2="1237.1" stroke="#000" stroke-width="7.6"/>
<rect x="103.3" y="979.7" width="6" height="8" fill="#000"/>
<rect x="103.3" y="1174.1" width="7" height="7.8" fill="#000"/>
<rect x="510" y="1237" width="7" height="11.6" fill="#000"/>
<rect x="890" y="1237" width="7.3" height="11.7" fill="#000"/>
<text filter="url(#nf)" x="9.8" y="907.4" font-size="33.2" font-family="Liberation Sans, sans-serif" font-weight="bold" fill="#000" stroke="#000" stroke-width="0.8">C</text>
<g filter="url(#nf)" transform="translate(37.7 1231.3) rotate(-90) translate(-1.83 0)" font-size="33" font-family="Liberation Sans, sans-serif" font-weight="bold" fill="#000" stroke="#000" stroke-width="0.5" stroke-linejoin="miter"><text transform="translate(0 0) scale(0.934 1)">E</text><text transform="translate(20.55 0) scale(0.972 1)">s</text><text transform="translate(38.4 0) scale(1.249 1)">t</text><text transform="translate(52.12 0) scale(1.164 1)">r</text><text transform="translate(67.07 0) scale(1.026 1)">o</text><text transform="translate(87.74 0) scale(1.044 1)">g</text><text transform="translate(108.78 0) scale(1.089 1)">e</text><text transform="translate(128.76 0) scale(1.063 1)">n</text><text x="150.18"> </text><text transform="translate(162.05 0) scale(1.200 1)">(</text><text transform="translate(176.81 0) scale(1.044 1)">p</text><text transform="translate(197.84 0) scale(1.044 1)">g</text><text transform="translate(222.14 0) scale(1.550 1)">/</text><text transform="translate(239.61 0) scale(1.085 1)">m</text><text transform="translate(271.45 0) scale(1.123 1)">l</text><text transform="translate(283.31 0) scale(1.200 1)">)</text></g>
<g filter="url(#nf)" transform="translate(53.36 991.4)" font-size="21.4" font-family="Liberation Sans, sans-serif" font-weight="bold" fill="#000" stroke="#000" stroke-width="0.45" stroke-linejoin="miter"><text transform="translate(0 0) scale(1.231 1)">2</text><text transform="translate(14.65 0) scale(1.231 1)">5</text><text transform="translate(29.29 0) scale(1.231 1)">0</text></g>
<g filter="url(#nf)" transform="translate(83.82 1186.7)" font-size="21.4" font-family="Liberation Sans, sans-serif" font-weight="bold" fill="#000" stroke="#000" stroke-width="0.45" stroke-linejoin="miter"><text transform="translate(0 0) scale(1.099 1)">5</text></g>
<g filter="url(#nf)" transform="translate(83.36 1246)" font-size="21.4" font-family="Liberation Sans, sans-serif" font-weight="bold" fill="#000" stroke="#000" stroke-width="0.45" stroke-linejoin="miter"><text transform="translate(-0 0) scale(1.195 1)">0</text></g>
<g filter="url(#nf)" transform="translate(61.13 1273.3)" font-size="21.4" font-family="Liberation Sans, sans-serif" font-weight="bold" fill="#000" stroke="#000" stroke-width="0.45" stroke-linejoin="miter"><text transform="translate(0.1 0) scale(1.420 1)">-</text><text transform="translate(10.32 0) scale(1.285 1)">5</text><text x="25.62"> </text><text transform="translate(32.97 0) scale(1.176 1)">y</text><text transform="translate(46.98 0) scale(1.200 1)">e</text><text transform="translate(61.26 0) scale(1.207 1)">a</text><text transform="translate(75.63 0) scale(1.284 1)">r</text><text transform="translate(86.32 0) scale(1.072 1)">s</text></g>
<g filter="url(#nf)" transform="translate(445.72 1272.7)" font-size="21.4" font-family="Liberation Sans, sans-serif" font-weight="bold" fill="#000" stroke="#000" stroke-width="0.45" stroke-linejoin="miter"><text transform="translate(0 0) scale(1.147 1)">M</text><text transform="translate(20.45 0) scale(1.203 1)">e</text><text transform="translate(34.77 0) scale(1.175 1)">n</text><text transform="translate(50.12 0) scale(1.134 1)">o</text><text transform="translate(64.94 0) scale(1.153 1)">p</text><text transform="translate(80.02 0) scale(1.210 1)">a</text><text transform="translate(94.43 0) scale(1.175 1)">u</text><text transform="translate(109.78 0) scale(1.075 1)">s</text><text transform="translate(122.57 0) scale(1.203 1)">e</text></g>
<g filter="url(#nf)" transform="translate(838.48 1270.8)" font-size="21.4" font-family="Liberation Sans, sans-serif" font-weight="bold" fill="#000" stroke="#000" stroke-width="0.45" stroke-linejoin="miter"><text transform="translate(0.46 0) scale(1.420 1)">+</text><text transform="translate(18.67 0) scale(1.286 1)">5</text><text x="33.98"> </text><text transform="translate(41.35 0) scale(1.178 1)">y</text><text transform="translate(55.36 0) scale(1.201 1)">e</text><text transform="translate(69.66 0) scale(1.209 1)">a</text><text transform="translate(84.05 0) scale(1.285 1)">r</text><text transform="translate(94.75 0) scale(1.073 1)">s</text></g>
<g filter="url(#nf)" transform="translate(813.56 939.9)" font-size="30.4" font-family="Liberation Sans, sans-serif" font-weight="bold" fill="#06e40a" stroke="#06e40a" stroke-width="0.7" stroke-linejoin="miter"><text transform="translate(0 0) scale(1.032 1)">F</text><text transform="translate(19.16 0) scale(1.032 1)">S</text><text transform="translate(40.08 0) scale(1.124 1)">H</text></g>
<g filter="url(#nf)" transform="translate(843.63 1041.3)" font-size="30.4" font-family="Liberation Sans, sans-serif" font-weight="bold" fill="#0505e6" stroke="#0505e6" stroke-width="0.7" stroke-linejoin="miter"><text transform="translate(0 0) scale(0.990 1)">L</text><text transform="translate(18.38 0) scale(1.100 1)">H</text></g>
<g filter="url(#nf)" transform="translate(250.07 997.8)" font-size="30.4" font-family="Liberation Sans, sans-serif" font-weight="bold" fill="#9a05f7" stroke="#9a05f7" stroke-width="0.7" stroke-linejoin="miter"><text transform="translate(0 0) scale(1.089 1)">P</text><text transform="translate(22.08 0) scale(1.266 1)">r</text><text transform="translate(37.06 0) scale(1.115 1)">o</text><text transform="translate(57.75 0) scale(1.134 1)">g</text><text transform="translate(78.81 0) scale(1.183 1)">e</text><text transform="translate(98.82 0) scale(1.057 1)">s</text><text transform="translate(116.68 0) scale(1.357 1)">t</text><text transform="translate(130.42 0) scale(1.183 1)">e</text><text transform="translate(150.42 0) scale(1.266 1)">r</text><text transform="translate(165.4 0) scale(1.115 1)">o</text><text transform="translate(186.09 0) scale(1.155 1)">n</text><text transform="translate(207.55 0) scale(1.183 1)">e</text></g>
<g filter="url(#nf)" transform="translate(742.3 1180.4)" font-size="30.4" font-family="Liberation Sans, sans-serif" font-weight="bold" fill="#f59b12" stroke="#f59b12" stroke-width="0.7" stroke-linejoin="miter"><text transform="translate(0 0) scale(1.009 1)">E</text><text transform="translate(20.47 0) scale(1.051 1)">s</text><text transform="translate(38.24 0) scale(1.350 1)">t</text><text transform="translate(51.9 0) scale(1.259 1)">r</text><text transform="translate(66.8 0) scale(1.109 1)">o</text><text transform="translate(87.38 0) scale(1.128 1)">g</text><text transform="translate(108.33 0) scale(1.177 1)">e</text><text transform="translate(128.23 0) scale(1.149 1)">n</text></g>
</g>
</svg>
</body></html>
